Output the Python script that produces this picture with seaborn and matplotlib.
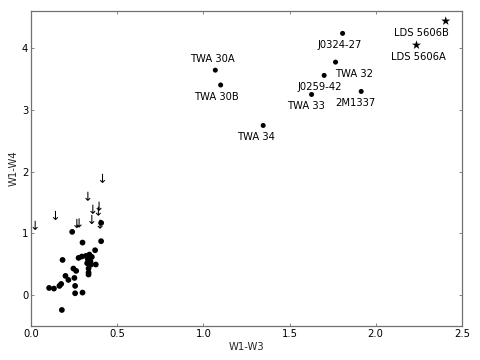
import matplotlib
matplotlib.use("Agg")
import matplotlib.pyplot as plt
import seaborn as sns
import pandas as pd

# Unlabelled members (W1-W3, W1-W4)
cluster_x = [0.298, 0.406, 0.182, 0.371, 0.275, 0.294, 0.317, 0.338, 0.352, 0.329,
             0.344, 0.325, 0.348, 0.375, 0.333, 0.333, 0.333, 0.245, 0.261, 0.199,
             0.216, 0.174, 0.164, 0.251, 0.255, 0.255, 0.298, 0.104, 0.132, 0.178,
             0.238, 0.406]
cluster_y = [0.852, 0.874, 0.571, 0.728, 0.604, 0.626, 0.636, 0.658, 0.620, 0.583,
             0.550, 0.518, 0.497, 0.497, 0.432, 0.367, 0.335, 0.432, 0.394, 0.313,
             0.248, 0.183, 0.151, 0.280, 0.151, 0.032, 0.043, 0.118, 0.108, -0.238,
             1.025, 1.170]

# Upper limits in W4
limit_x = [0.023, 0.141, 0.265, 0.278, 0.329, 0.358, 0.394, 0.390, 0.414, 0.352, 0.400]
limit_y = [1.13, 1.29, 1.16, 1.17, 1.60, 1.39, 1.44, 1.36, 1.89, 1.225, 1.15]

# Named objects
named = ["J0324-27", "TWA 32", "J0259-42", "TWA 33", "2M1337",
         "TWA 30A", "TWA 30B", "TWA 34"]
named_x = [1.808, 1.767, 1.701, 1.628, 1.916, 1.069, 1.100, 1.347]
named_y = [4.235, 3.770, 3.555, 3.247, 3.296, 3.640, 3.400, 2.746]

stars = ["LDS 5606B", "LDS 5606A"]
star_x = [2.407, 2.237]
star_y = [4.434, 4.045]

# label offsets in pixels (dx, dy)
offsets = {"J0324-27": (-3, -12), "TWA 32": (19, -12), "J0259-42": (-4, -12),
           "TWA 33": (-6, -12), "2M1337": (-6, -12), "TWA 30A": (-3, 11),
           "TWA 30B": (-4, -12), "TWA 34": (-7, -12),
           "LDS 5606B": (-24, -12), "LDS 5606A": (2, -12)}

sns.set_style("ticks", {"axes.edgecolor": "#707070", "xtick.direction": "in",
                        "ytick.direction": "in", "xtick.color": "#707070",
                        "ytick.color": "#707070"})
plt.rcParams["font.family"] = ["DejaVu Sans"]
plt.rcParams["font.size"] = 12

fig = plt.figure(figsize=(8, 6), dpi=60)
ax = fig.add_axes([0.065, 0.094, 0.897, 0.876])

cluster = pd.DataFrame({"x": cluster_x, "y": cluster_y})
limits = pd.DataFrame({"x": limit_x, "y": limit_y})
named_df = pd.DataFrame({"x": named_x, "y": named_y, "name": named})
star_df = pd.DataFrame({"x": star_x, "y": star_y, "name": stars})

sns.scatterplot(data=cluster, x="x", y="y", color="black", s=48, edgecolor="none", ax=ax)
sns.scatterplot(data=limits, x="x", y="y", color="black", marker=r"$\downarrow$",
                s=120, edgecolor="none", ax=ax)
sns.scatterplot(data=named_df, x="x", y="y", color="black", s=36, edgecolor="none", ax=ax)
sns.scatterplot(data=star_df, x="x", y="y", color="black", marker="*", s=130,
                edgecolor="none", ax=ax)

for df in (named_df, star_df):
    for _, row in df.iterrows():
        ax.annotate(row["name"], (row["x"], row["y"]), xytext=offsets[row["name"]],
                    textcoords="offset pixels", ha="center", va="center",
                    fontsize=12, color="black")

ax.set_xlim(0, 2.5)
ax.set_ylim(-0.5, 4.6)
ax.set_xticks([0.0, 0.5, 1.0, 1.5, 2.0, 2.5])
ax.set_xticklabels(["0.0", "0.5", "1.0", "1.5", "2.0", "2.5"])
ax.set_yticks([0, 1, 2, 3, 4])
ax.tick_params(top=True, right=True, labelcolor="black", length=4, width=1)
for sp in ax.spines.values():
    sp.set_linewidth(1.5)
ax.set_xlabel("W1-W3", fontsize=12)
ax.set_ylabel("W1-W4", fontsize=12)

fig.savefig("out.png", dpi=60)
